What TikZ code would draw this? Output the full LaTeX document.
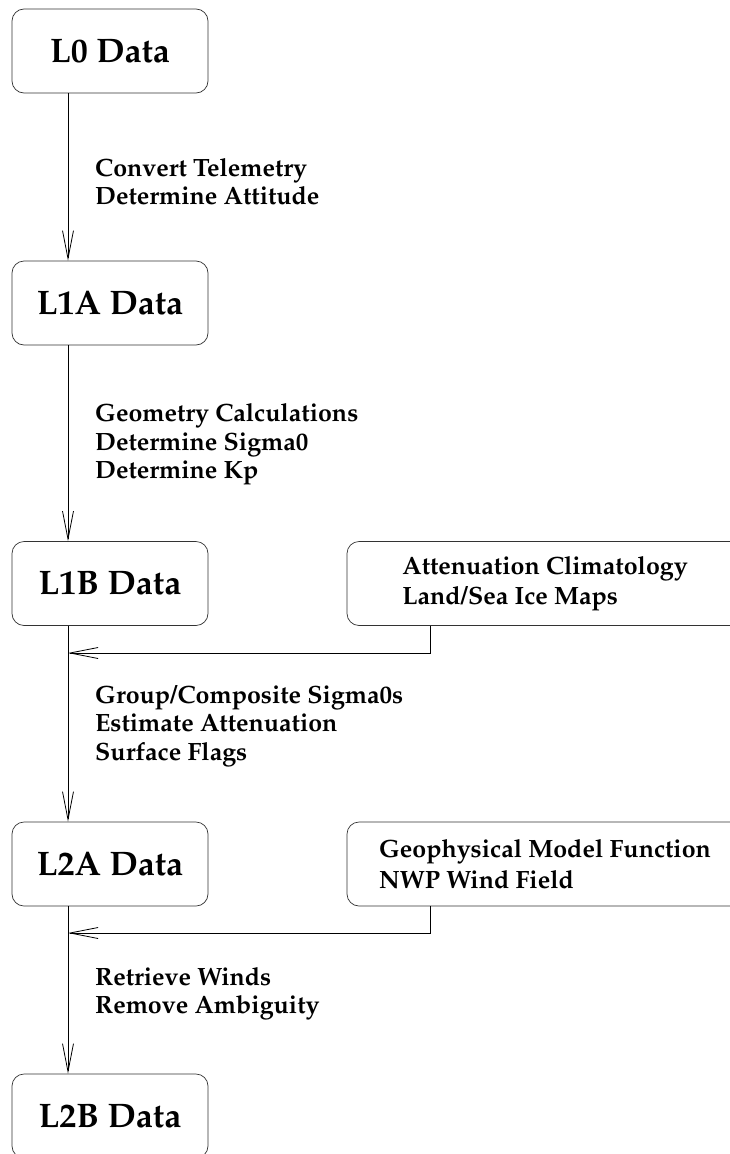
\documentclass[tikz,border=0pt]{standalone}
\usepackage[T1]{fontenc}
\usepackage{mathpazo}
\usetikzlibrary{arrows.meta,positioning}
\tikzset{
    databox/.style={draw=black!80, line width=0.7pt, rounded corners=12pt,
        minimum width=196pt, minimum height=84pt,
        font=\fontsize{34}{38}\selectfont\bfseries},
    srcbox/.style={draw=black!80, line width=0.7pt, rounded corners=12pt,
        minimum width=396pt, minimum height=84pt, align=left,
        font=\fontsize{25}{30.5}\selectfont\bfseries},
    steptext/.style={anchor=base west, align=left, inner sep=0pt,
        font=\fontsize{25}{28.5}\selectfont\bfseries},
    flow/.style={-{Straight Barb[length=28pt,width=11pt]}, line width=0.8pt}
}
\begin{document}
\begin{tikzpicture}[x=1pt,y=-1pt]
    \useasboundingbox (0,0) rectangle (730,1154);
    % data levels
    \foreach \x/\y/\name/\txt in {
        110/51/lzero/L0 Data,
        110/303/lonea/L1A Data,
        110/583.5/loneb/L1B Data,
        110/864/ltwoa/L2A Data,
        110/1116/ltwob/L2B Data} {
        \node[databox] (\name) at (\x,\y) {\txt};
    }
    % ancillary inputs
    \node[srcbox] (atten) at (545,583.5) {Attenuation Climatology\\Land/Sea Ice Maps};
    \node[srcbox] (gmf) at (545,864) {Geophysical Model Function\\NWP Wind Field};

    % processing steps (placed at baseline of last line)
    \node[steptext] (stepa) at (95,204.5) {Convert Telemetry\\Determine Attitude};
    \node[steptext] (stepb) at (95,478.5) {Geometry Calculations\\Determine Sigma0\\Determine Kp};
    \node[steptext] (stepc) at (95,760) {Group/Composite Sigma0s\\Estimate Attenuation\\Surface Flags};
    \node[steptext] (stepd) at (95,1013.5) {Retrieve Winds\\Remove Ambiguity};

    \coordinate (spine) at (68,0);
    \foreach \a/\b in {
        lzero/lonea,
        lonea/loneb,
        loneb/ltwoa,
        ltwoa/ltwob}{
        \draw[flow] (\a.south -| spine) -- (\b.north -| spine);
    }
    \coordinate (joinb) at (68,653);
    \coordinate (joina) at (68,933);
    \draw[flow] ([xshift=84pt]atten.south west) |- (joinb);
    \draw[flow] ([xshift=84pt]gmf.south west) |- (joina);
\end{tikzpicture}
\end{document}
